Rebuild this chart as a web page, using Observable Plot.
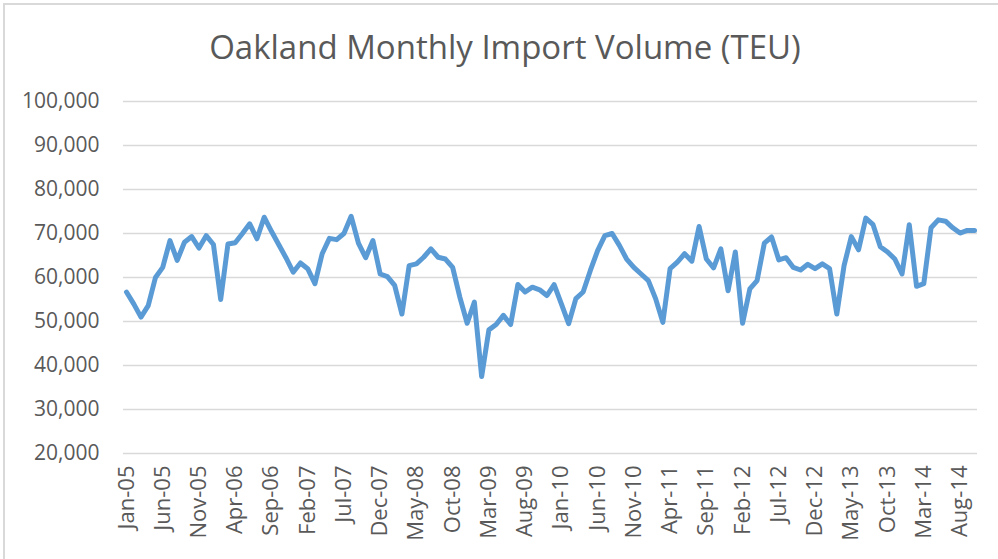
<!DOCTYPE html>
<html>
<head>
<meta charset="utf-8">
<script src="https://cdn.jsdelivr.net/npm/d3@7"></script>
<script src="https://cdn.jsdelivr.net/npm/@observablehq/plot@0.6"></script>
<style>
  body { margin: 0; background: #fff; font-family: "Open Sans", sans-serif; }
  #wrap { position: relative; width: 998px; height: 559px; overflow: hidden; background: #fff; }
  #frame { position: absolute; left: 3px; top: 3px; width: 1100px; height: 700px;
           border-left: 2px solid #d9d9d9; border-top: 2px solid #d9d9d9; pointer-events: none; }
  #title { box-sizing: border-box; height: 85px; padding-top: 30px; padding-left: 12px;
           font-size: 33px; line-height: 33px; color: #595959; text-align: center; white-space: nowrap; }
  #chart svg { display: block; }
</style>
</head>
<body>
<div id="wrap">
  <div id="frame"></div>
  <div id="title">Oakland Monthly Import Volume (TEU)</div>
  <div id="chart"></div>
</div>
<script>
// Monthly import volume (TEU), Jan 2005 – Oct 2014
const firstMonth = "2005-01";
const lastMonth = "2014-10";

const teu2005 = [56700, 54000, 51000, 53600, 60000, 62300, 68400, 63900, 68000, 69300, 66700, 69500];
const teu2006 = [67500, 55000, 67600, 67900, 70000, 72200, 68800, 73700, 70500, 67500, 64500, 61200];
const teu2007 = [63300, 62000, 58600, 65400, 68900, 68600, 70000, 73900, 67800, 64500, 68400, 60800];
const teu2008 = [60200, 58200, 51700, 62700, 63100, 64600, 66500, 64600, 64200, 62300, 55500, 49600];
const teu2009 = [54400, 37500, 48100, 49300, 51400, 49300, 58400, 56700, 57800, 57200, 55900, 58400];
const teu2010 = [54000, 49500, 55200, 56700, 61600, 66100, 69500, 70000, 67300, 64200, 62300, 60800];
const teu2011 = [59300, 55200, 49800, 62000, 63500, 65400, 63700, 71600, 64200, 62200, 66500, 57000];
const teu2012 = [65800, 49600, 57400, 59300, 67800, 69200, 64000, 64500, 62300, 61700, 63000, 62000];
const teu2013 = [63100, 62000, 51700, 62700, 69300, 66300, 73500, 72000, 67000, 65800, 64200, 60800];
const teu2014 = [72000, 58000, 58600, 71300, 73100, 72800, 71300, 70100, 70700, 70700];

const tickLabels = ["Jan-05","Jun-05","Nov-05","Apr-06","Sep-06","Feb-07","Jul-07","Dec-07",
  "May-08","Oct-08","Mar-09","Aug-09","Jan-10","Jun-10","Nov-10","Apr-11","Sep-11","Feb-12",
  "Jul-12","Dec-12","May-13","Oct-13","Mar-14","Aug-14"];
const yTicks = [20000, 30000, 40000, 50000, 60000, 70000, 80000, 90000, 100000];

const values = [].concat(teu2005, teu2006, teu2007, teu2008, teu2009, teu2010, teu2011, teu2012, teu2013, teu2014);
const parse = d3.utcParse("%Y-%m");
const fmt = d3.utcFormat("%b-%y");
const months = d3.utcMonth.range(parse(firstMonth), d3.utcMonth.offset(parse(lastMonth), 1)).map(fmt);
const data = months.map((m, i) => ({month: m, teu: values[i]}));

const chart = Plot.plot({
  width: 998,
  height: 474,
  marginTop: 16,
  marginBottom: 106,
  marginLeft: 123,
  marginRight: 21,
  style: {fontFamily: "'Open Sans', sans-serif", color: "#595959", background: "#fff", overflow: "visible"},
  x: {type: "point", domain: months, padding: 0.41, round: false},
  y: {domain: [20000, 100000]},
  marks: [
    Plot.gridY(yTicks, {stroke: "#d9d9d9", strokeOpacity: 1, strokeWidth: 1.6}),
    Plot.axisY(yTicks, {tickSize: 0, tickPadding: 24, tickFormat: d3.format(","), fontSize: 21, fill: "#595959", label: null}),
    Plot.axisX(tickLabels, {tickSize: 0, tickPadding: 12, tickRotate: -90, fontSize: 22, fill: "#595959", label: null, style: {letterSpacing: "1.2px"}}),
    Plot.line(data, {x: "month", y: "teu", stroke: "#5b9bd5", strokeWidth: 5, strokeLinejoin: "round", strokeLinecap: "round"})
  ]
});
document.getElementById("chart").appendChild(chart);
</script>
</body>
</html>
